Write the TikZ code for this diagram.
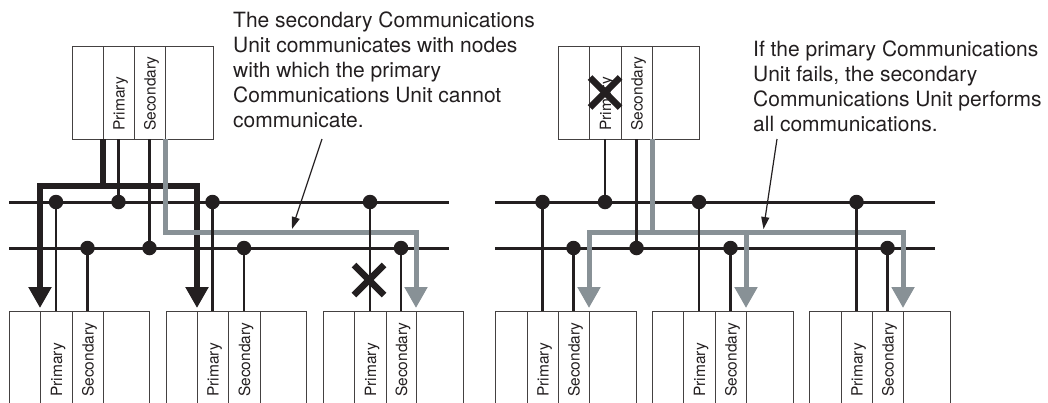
\documentclass[tikz,border=0pt]{standalone}
\usepackage{fontspec}
\setmainfont{TeX Gyre Heros}
\usetikzlibrary{arrows.meta}
\definecolor{ink}{RGB}{35,31,32}
\definecolor{pathgray}{RGB}{136,145,150}
% name, x0, x1, x2, x3, x4, ytop, ybot, label start y
\newcommand\plcunit[9]{%
  \node[colbox,minimum width={(#3-#2)*1pt},minimum height={(#8-#7)*1pt}] (#1a) at (#2,#7) {};
  \node[colbox,minimum width={(#4-#3)*1pt},minimum height={(#8-#7)*1pt}] (#1p) at (#3,#7) {};
  \node[colbox,minimum width={(#5-#4)*1pt},minimum height={(#8-#7)*1pt}] (#1s) at (#4,#7) {};
  \node[colbox,minimum width={(#6-#5)*1pt},minimum height={(#8-#7)*1pt}] (#1b) at (#5,#7) {};
  \node[collabel] (#1pl) at ({(#3+#4)/2+6},#9) {Primary};
  \node[collabel] (#1sl) at ({(#4+#5)/2+6},#9) {Secondary};
}
\begin{document}
\begin{tikzpicture}[x=1pt,y=-1pt,
  colbox/.style={draw=ink!85,line width=1pt,anchor=north west,inner sep=0pt,outer sep=0pt},
  collabel/.style={rotate=90,anchor=base west,inner sep=0pt,text=ink,font=\fontsize{15.5}{18}\selectfont},
  bus/.style={draw=ink,line width=3pt},
  wire/.style={draw=ink,line width=2.8pt},
  dot/.style={circle,fill=ink,inner sep=0pt,minimum size=14.5pt},
  thickpath/.style={draw=ink,line width=5.5pt,line join=miter},
  graypath/.style={draw=pathgray,line width=5pt,line join=miter},
  bigtip/.style={-{Triangle[length=21pt,width=22pt]}},
  xline/.style={draw=ink,line width=6.5pt},
  note/.style={anchor=north west,align=left,inner sep=0pt,text=ink,font=\fontsize{21}{25}\selectfont},
  notearrow/.style={draw=ink,line width=1.2pt,-{Triangle[length=12pt,width=8pt]}}
]
\useasboundingbox (0,0) rectangle (1048,402);
\clip (0,0) rectangle (1048,402);

% units
\plcunit{T1}{72}{103}{134}{165}{213}{46}{139}{131}
\plcunit{T2}{558}{589}{621}{652}{699}{46}{139}{131}
\plcunit{U1}{9}{40}{72}{103}{149}{311}{410}{397}
\plcunit{U2}{166}{197}{228}{260}{306}{311}{410}{397}
\plcunit{U3}{323}{354}{386}{416}{463}{311}{410}{397}
\plcunit{U4}{495}{527}{558}{589}{636}{311}{410}{397}
\plcunit{U5}{652}{683}{715}{746}{793}{311}{410}{397}
\plcunit{U6}{809}{841}{872}{903}{950}{311}{410}{397}

% buses
\coordinate (b1l) at (9,202);   \coordinate (b1r) at (449,202);
\coordinate (b2l) at (9,248);   \coordinate (b2r) at (449,248);
\coordinate (b3l) at (495,202); \coordinate (b3r) at (935,202);
\coordinate (b4l) at (495,248); \coordinate (b4r) at (935,248);
\draw[bus] (b1l) -- (b1r);
\draw[bus] (b2l) -- (b2r);
\draw[bus] (b3l) -- (b3r);
\draw[bus] (b4l) -- (b4r);

% thick black (primary) communication path
\coordinate (h) at (0,186);
\draw[thickpath] (T1a.south east) -- (T1a.south east |- h);
\draw[thickpath,{Triangle[length=21pt,width=22pt]}-{Triangle[length=21pt,width=22pt]},shorten <=3pt,shorten >=3pt]
  (U1a.north east) -- (U1a.north east |- h) -- (U2a.north east |- h) -- (U2a.north east);

% gray (secondary) communication paths
\coordinate (g) at (0,232);
\draw[graypath,bigtip,shorten >=3pt]
  (T1s.south east) -- (T1s.south east |- g) -- (U3s.north east |- g) -- (U3s.north east);
\draw[graypath] (T2s.south east) -- (T2s.south east |- g);
\draw[graypath,{Triangle[length=21pt,width=22pt]}-{Triangle[length=21pt,width=22pt]},shorten <=3pt,shorten >=3pt]
  (U4s.north east) -- (U4s.north east |- g) -- (U6s.north east |- g) -- (U6s.north east);
\draw[graypath,bigtip,shorten >=3pt] (U5s.north east |- g) -- (U5s.north east);

% drops to lower units
\foreach \nm/\bp/\bs in {U1/b1l/b2l,U2/b1l/b2l,U3/b1l/b2l,U4/b3l/b4l,U5/b3l/b4l,U6/b3l/b4l}{
  \node[dot] (\nm dp) at (\nm p.north |- \bp) {};
  \node[dot] (\nm ds) at (\nm s.north |- \bs) {};
  \draw[wire] (\nm dp.center) -- (\nm p.north);
  \draw[wire] (\nm ds.center) -- (\nm s.north);
}
% drops from upper units
\node[dot] (T1dp) at (T1p.south |- b1l) {};
\node[dot] (T1ds) at (T1s.south |- b2l) {};
\draw[wire] (T1p.south) -- (T1dp.center);
\draw[wire] (T1s.south) -- (T1ds.center);
\node[dot] (T2dp) at (T2p.south |- b3l) {};
\node[dot] (T2ds) at (T2s.south |- b4l) {};
\draw[wire] (T2p.south) -- (T2dp.center);
\draw[wire] (T2s.south) -- (T2ds.center);

% failure marks
\coordinate (x1) at (369,280);
\draw[xline] ([shift={(-15,-15)}]x1) -- ([shift={(15,15)}]x1);
\draw[xline] ([shift={(-15,15)}]x1) -- ([shift={(15,-15)}]x1);
\coordinate (x2) at (T2p.center);
\draw[xline] ([shift={(-15,-15)}]x2) -- ([shift={(15,15)}]x2);
\draw[xline] ([shift={(-15,15)}]x2) -- ([shift={(15,-15)}]x2);

% notes
\node[note] (n1) at (233,12) {The secondary Communications\\Unit communicates with nodes\\with which the primary\\Communications Unit cannot\\communicate.};
\node[note] (n2) at (753,40.5) {If the primary Communications\\Unit fails, the secondary\\Communications Unit performs\\all communications.};
\coordinate (a1s) at (322,139); \coordinate (a1e) at (292,229);
\coordinate (a2s) at (777,139); \coordinate (a2e) at (763.5,229);
\draw[notearrow] (a1s) -- (a1e);
\draw[notearrow] (a2s) -- (a2e);
\end{tikzpicture}
\end{document}
